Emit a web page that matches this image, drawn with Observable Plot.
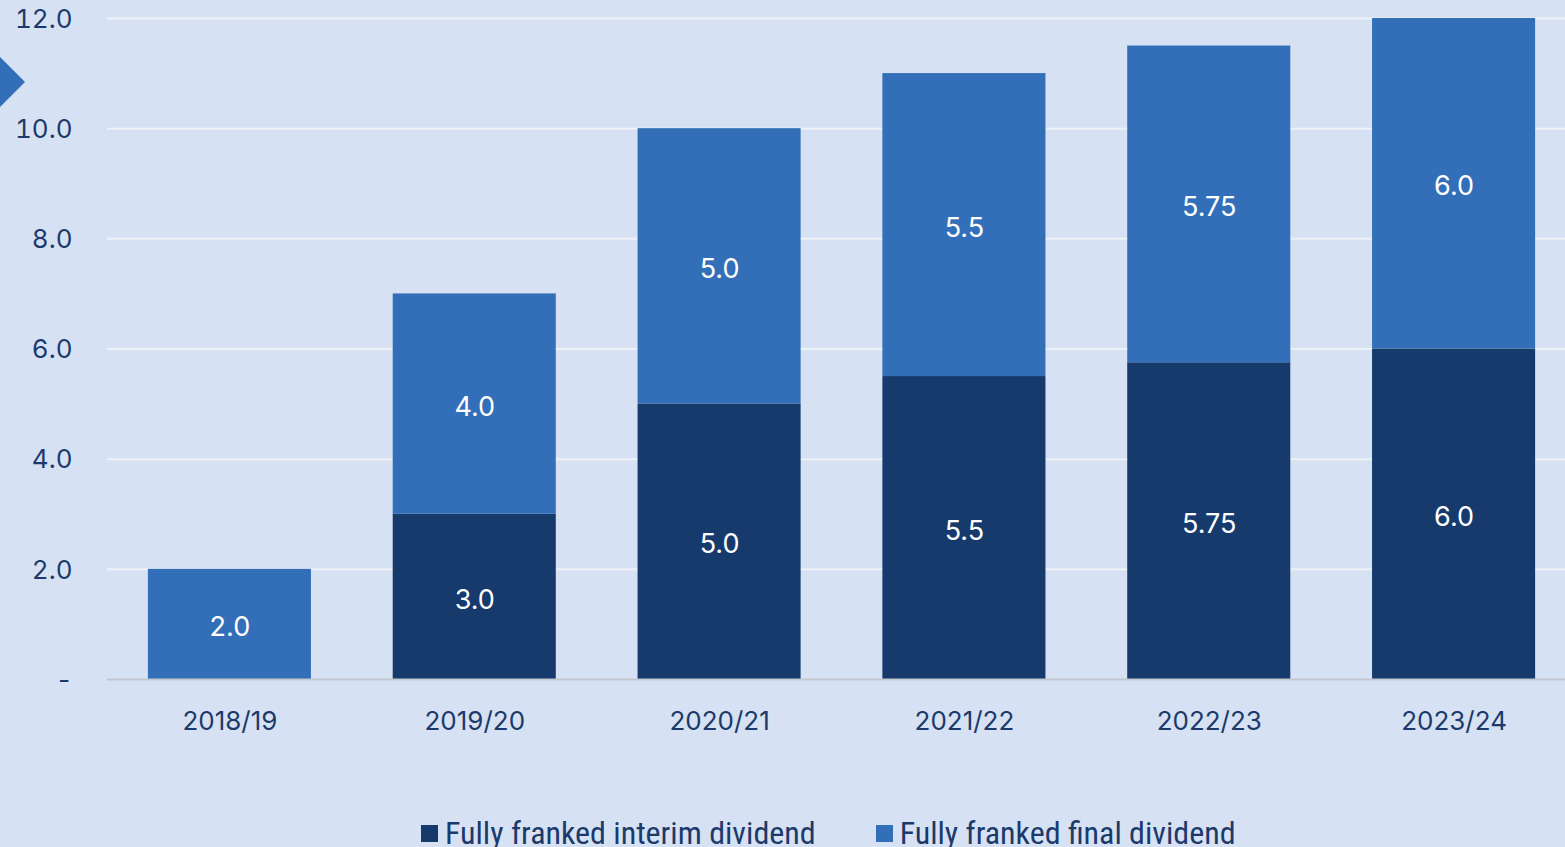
<!DOCTYPE html>
<html>
<head>
<meta charset="utf-8">
<script src="https://cdn.jsdelivr.net/npm/d3@7"></script>
<script src="https://cdn.jsdelivr.net/npm/@observablehq/plot@0.6"></script>
<style>
  html, body { margin: 0; padding: 0; background: #d6e2f3; overflow: hidden; }
  #wrap { position: relative; width: 1565px; height: 847px; }
  #arrow { position: absolute; left: 0; top: 57px; width: 0; height: 0;
    border-top: 25px solid transparent; border-bottom: 25px solid transparent;
    border-left: 25px solid #336fb8; }
  #legend { position: absolute; left: 421px; top: 814px; display: flex; justify-content: flex-start;
    font-family: "Liberation Sans Narrow", "Roboto Condensed", "Noto Sans", sans-serif; font-size: 32px; color: #1b3a6b; line-height: 38px; white-space: nowrap; }
  .item { display: flex; align-items: center; margin-right: 60px; }
  .sw { width: 17px; height: 17px; margin-right: 7px; }
</style>
</head>
<body>
<div id="wrap">
  <div id="chart"></div>
  <div id="arrow"></div>
  <div id="legend"></div>
</div>
<script>
const years = ["2018/19", "2019/20", "2020/21", "2021/22", "2022/23", "2023/24"];
const interim = [0, 3.0, 5.0, 5.5, 5.75, 6.0];
const finalDiv = [2.0, 4.0, 5.0, 5.5, 5.75, 6.0];
const seriesNames = ["Fully franked interim dividend", "Fully franked final dividend"];
const seriesColors = ["#163a6c", "#336fb8"];
const yTicks = [0, 2, 4, 6, 8, 10, 12];

const data = [];
years.forEach((y, i) => {
  data.push({year: y, series: seriesNames[0], value: interim[i]});
  data.push({year: y, series: seriesNames[1], value: finalDiv[i]});
});
const fmt = v => Number.isInteger(v) ? v.toFixed(1) : String(v);
const shown = data.filter(d => d.value > 0);

const chart = Plot.plot({
  width: 1565,
  height: 806,
  marginLeft: 107,
  marginRight: 0,
  marginTop: 18,
  marginBottom: 127,
  style: { background: "transparent", fontFamily: "Inter, 'Noto Sans', sans-serif", color: "#1b3a6b" },
  x: { domain: years, range: [107, 1576], round: false, paddingInner: 0.334, paddingOuter: 0.167, label: null },
  y: { domain: [0, 12], label: null },
  color: { domain: seriesNames, range: seriesColors },
  marks: [
    Plot.ruleY(yTicks.filter(d => d > 0), { stroke: "#eef1f6", strokeWidth: 2 }),
    Plot.barY(shown, Plot.stackY({ order: seriesNames, x: "year", y: "value", z: "series", fill: "series" })),
    Plot.text(shown, Plot.stackY({ order: seriesNames, x: "year", y: "value", z: "series", text: d => fmt(d.value), fill: "white", dy: 3, fontSize: 27, fontFamily: "Inter, 'Noto Sans', sans-serif" })),
    Plot.ruleY([0], { stroke: "#c2c7cf", strokeWidth: 2 }),
    Plot.axisX({ tickSize: 0, tickPadding: 32, fontSize: 26, label: null }),
    Plot.axisY({ ticks: yTicks, tickSize: 0, tickPadding: 35, dy: 1, fontSize: 26, label: null, tickFormat: d => d === 0 ? "-" : d.toFixed(1) })
  ]
});
document.getElementById("chart").appendChild(chart);

const legend = document.getElementById("legend");
seriesNames.forEach((n, i) => {
  const it = document.createElement("div");
  it.className = "item";
  it.innerHTML = `<span class="sw" style="background:${seriesColors[i]}"></span><span>${n}</span>`;
  legend.appendChild(it);
});
</script>
</body>
</html>
